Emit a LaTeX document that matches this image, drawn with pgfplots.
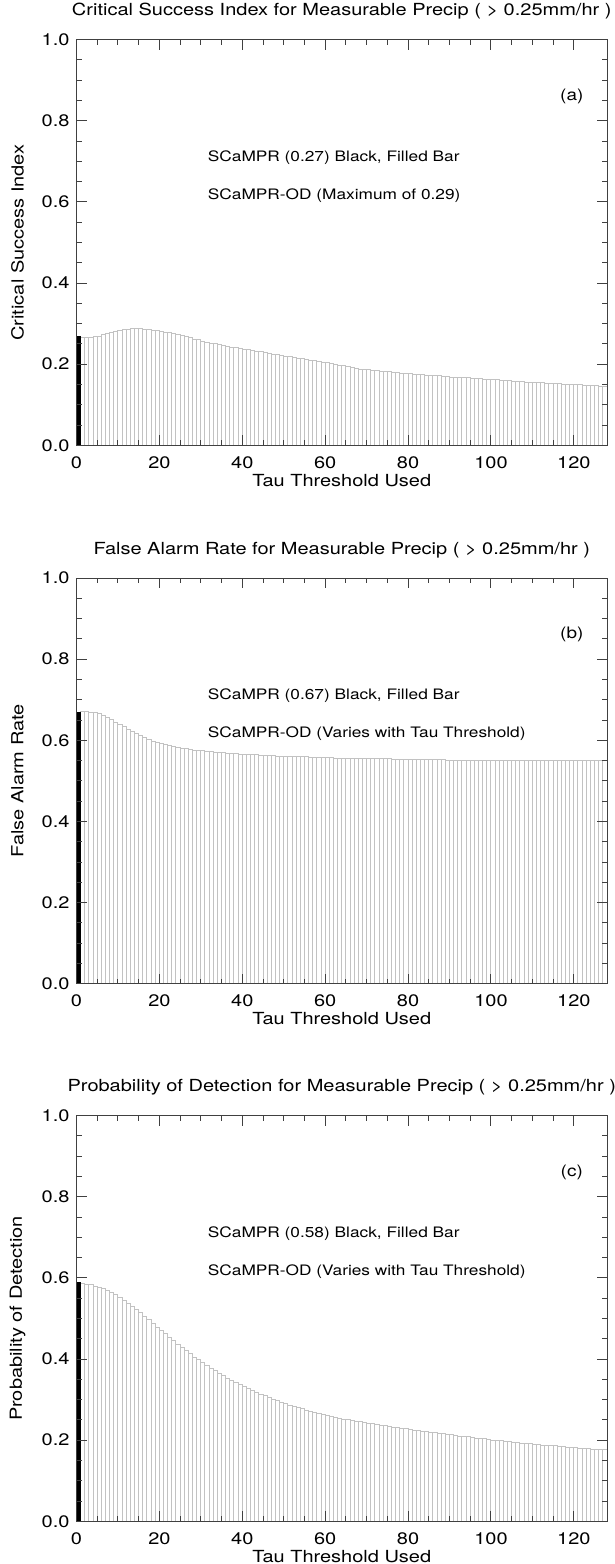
\documentclass[border=0pt]{standalone}
\usepackage{fontspec}
\setmainfont{TeX Gyre Heros}[FakeStretch=1.2]
\usepackage{pgfplots}
\usepackage{pgfplotstable}
\pgfplotsset{compat=1.18}
\definecolor{bargray}{gray}{0.76}

\pgfplotstableread[row sep=\\]{
x y\\
1 0.265\\ 2 0.265\\ 3 0.266\\ 4 0.267\\ 5 0.269\\ 6 0.272\\ 7 0.275\\ 8 0.278\\ 9 0.281\\ 10 0.283\\
11 0.285\\ 12 0.286\\ 13 0.287\\ 14 0.287\\ 15 0.287\\ 16 0.286\\ 17 0.285\\ 18 0.284\\ 19 0.283\\ 20 0.281\\
21 0.279\\ 22 0.277\\ 23 0.275\\ 24 0.273\\ 25 0.270\\ 26 0.268\\ 27 0.265\\ 28 0.262\\ 29 0.260\\ 30 0.257\\
31 0.254\\ 32 0.252\\ 33 0.250\\ 34 0.248\\ 35 0.246\\ 36 0.244\\ 37 0.242\\ 38 0.240\\ 39 0.239\\ 40 0.237\\
41 0.235\\ 42 0.234\\ 43 0.232\\ 44 0.230\\ 45 0.229\\ 46 0.227\\ 47 0.225\\ 48 0.224\\ 49 0.222\\ 50 0.220\\
51 0.219\\ 52 0.217\\ 53 0.215\\ 54 0.213\\ 55 0.212\\ 56 0.210\\ 57 0.208\\ 58 0.206\\ 59 0.204\\ 60 0.203\\
61 0.201\\ 62 0.199\\ 63 0.197\\ 64 0.196\\ 65 0.194\\ 66 0.192\\ 67 0.190\\ 68 0.188\\ 69 0.187\\ 70 0.186\\
71 0.185\\ 72 0.184\\ 73 0.183\\ 74 0.182\\ 75 0.181\\ 76 0.180\\ 77 0.179\\ 78 0.178\\ 79 0.177\\ 80 0.176\\
81 0.175\\ 82 0.174\\ 83 0.174\\ 84 0.173\\ 85 0.172\\ 86 0.171\\ 87 0.171\\ 88 0.170\\ 89 0.169\\ 90 0.168\\
91 0.168\\ 92 0.167\\ 93 0.166\\ 94 0.166\\ 95 0.165\\ 96 0.164\\ 97 0.164\\ 98 0.163\\ 99 0.162\\ 100 0.162\\
101 0.161\\ 102 0.160\\ 103 0.160\\ 104 0.159\\ 105 0.158\\ 106 0.158\\ 107 0.157\\ 108 0.156\\ 109 0.156\\ 110 0.155\\
111 0.155\\ 112 0.154\\ 113 0.153\\ 114 0.153\\ 115 0.152\\ 116 0.152\\ 117 0.151\\ 118 0.151\\ 119 0.150\\ 120 0.149\\
121 0.149\\ 122 0.148\\ 123 0.148\\ 124 0.147\\ 125 0.147\\ 126 0.146\\ 127 0.146\\
}\csi

\pgfplotstableread[row sep=\\]{
x y\\
1 0.670\\ 2 0.670\\ 3 0.669\\ 4 0.668\\ 5 0.665\\ 6 0.661\\ 7 0.656\\ 8 0.651\\ 9 0.645\\ 10 0.639\\
11 0.633\\ 12 0.627\\ 13 0.621\\ 14 0.616\\ 15 0.611\\ 16 0.606\\ 17 0.602\\ 18 0.598\\ 19 0.595\\ 20 0.592\\
21 0.589\\ 22 0.587\\ 23 0.585\\ 24 0.583\\ 25 0.581\\ 26 0.579\\ 27 0.578\\ 28 0.576\\ 29 0.575\\ 30 0.574\\
31 0.573\\ 32 0.572\\ 33 0.571\\ 34 0.570\\ 35 0.569\\ 36 0.568\\ 37 0.567\\ 38 0.567\\ 39 0.566\\ 40 0.565\\
41 0.565\\ 42 0.564\\ 43 0.564\\ 44 0.563\\ 45 0.563\\ 46 0.562\\ 47 0.562\\ 48 0.561\\ 49 0.561\\ 50 0.560\\
51 0.560\\ 52 0.560\\ 53 0.559\\ 54 0.559\\ 55 0.559\\ 56 0.558\\ 57 0.558\\ 58 0.558\\ 59 0.557\\ 60 0.557\\
61 0.557\\ 62 0.556\\ 63 0.556\\ 64 0.556\\ 65 0.556\\ 66 0.555\\ 67 0.555\\ 68 0.555\\ 69 0.555\\ 70 0.555\\
71 0.554\\ 72 0.554\\ 73 0.554\\ 74 0.554\\ 75 0.554\\ 76 0.553\\ 77 0.553\\ 78 0.553\\ 79 0.553\\ 80 0.553\\
81 0.553\\ 82 0.552\\ 83 0.552\\ 84 0.552\\ 85 0.552\\ 86 0.552\\ 87 0.552\\ 88 0.552\\ 89 0.551\\ 90 0.551\\
91 0.551\\ 92 0.551\\ 93 0.551\\ 94 0.551\\ 95 0.551\\ 96 0.551\\ 97 0.551\\ 98 0.551\\ 99 0.551\\ 100 0.551\\
101 0.550\\ 102 0.550\\ 103 0.550\\ 104 0.550\\ 105 0.550\\ 106 0.550\\ 107 0.550\\ 108 0.550\\ 109 0.550\\ 110 0.550\\
111 0.550\\ 112 0.550\\ 113 0.550\\ 114 0.550\\ 115 0.550\\ 116 0.550\\ 117 0.550\\ 118 0.550\\ 119 0.550\\ 120 0.550\\
121 0.550\\ 122 0.550\\ 123 0.550\\ 124 0.550\\ 125 0.550\\ 126 0.550\\ 127 0.550\\
}\far

\pgfplotstableread[row sep=\\]{
x y\\
1 0.586\\ 2 0.585\\ 3 0.583\\ 4 0.580\\ 5 0.577\\ 6 0.573\\ 7 0.569\\ 8 0.564\\ 9 0.558\\ 10 0.552\\
11 0.545\\ 12 0.538\\ 13 0.530\\ 14 0.522\\ 15 0.514\\ 16 0.505\\ 17 0.497\\ 18 0.488\\ 19 0.479\\ 20 0.470\\
21 0.462\\ 22 0.453\\ 23 0.445\\ 24 0.437\\ 25 0.429\\ 26 0.421\\ 27 0.413\\ 28 0.405\\ 29 0.398\\ 30 0.391\\
31 0.384\\ 32 0.377\\ 33 0.371\\ 34 0.365\\ 35 0.359\\ 36 0.353\\ 37 0.347\\ 38 0.342\\ 39 0.337\\ 40 0.332\\
41 0.327\\ 42 0.322\\ 43 0.318\\ 44 0.313\\ 45 0.309\\ 46 0.305\\ 47 0.301\\ 48 0.297\\ 49 0.293\\ 50 0.290\\
51 0.286\\ 52 0.283\\ 53 0.280\\ 54 0.277\\ 55 0.274\\ 56 0.271\\ 57 0.268\\ 58 0.266\\ 59 0.263\\ 60 0.260\\
61 0.258\\ 62 0.256\\ 63 0.254\\ 64 0.252\\ 65 0.250\\ 66 0.248\\ 67 0.246\\ 68 0.245\\ 69 0.243\\ 70 0.241\\
71 0.240\\ 72 0.238\\ 73 0.237\\ 74 0.235\\ 75 0.234\\ 76 0.232\\ 77 0.231\\ 78 0.230\\ 79 0.228\\ 80 0.227\\
81 0.225\\ 82 0.224\\ 83 0.222\\ 84 0.221\\ 85 0.220\\ 86 0.218\\ 87 0.217\\ 88 0.216\\ 89 0.214\\ 90 0.213\\
91 0.212\\ 92 0.210\\ 93 0.209\\ 94 0.208\\ 95 0.207\\ 96 0.205\\ 97 0.204\\ 98 0.203\\ 99 0.202\\ 100 0.200\\
101 0.199\\ 102 0.198\\ 103 0.197\\ 104 0.196\\ 105 0.195\\ 106 0.194\\ 107 0.193\\ 108 0.192\\ 109 0.191\\ 110 0.190\\
111 0.189\\ 112 0.188\\ 113 0.187\\ 114 0.186\\ 115 0.186\\ 116 0.185\\ 117 0.184\\ 118 0.183\\ 119 0.182\\ 120 0.181\\
121 0.180\\ 122 0.180\\ 123 0.179\\ 124 0.178\\ 125 0.177\\ 126 0.177\\ 127 0.176\\
}\pod

\pgfplotsset{
  panel/.style={
    scale only axis, width=265.25pt, height=202.8pt,
    anchor=south west,
    xmin=0, xmax=128, ymin=0, ymax=1,
    xtick={0,20,40,60,80,100,120}, minor x tick num=3,
    ytick={0,0.2,0.4,0.6,0.8,1.0}, minor y tick num=3,
    yticklabel style={/pgf/number format/.cd, fixed, fixed zerofill, precision=1},
    xticklabel style={yshift=-2pt},
    /pgf/number format/assume math mode=true,
    major tick length=5pt, minor tick length=2.5pt,
    tick style={draw=black!75, line width=0.5pt},
    axis line style={draw=black!75, line width=0.5pt},
    axis on top,
    xlabel={Tau Threshold Used},
    every axis x label/.style={at={(axis description cs:0.5,0)}, anchor=base, yshift=-20.5pt},
    every axis y label/.style={at={(axis description cs:-0.1112,0.5)}, anchor=center, rotate=90},
    title style={at={(axis description cs:0.5,1)}, anchor=base, yshift=6pt},
  },
  graybars/.style={ybar, bar width=1, bar shift=0.5, draw=bargray, fill=white, line width=0.5pt},
  blackbar/.style={ybar, bar width=0.9, bar shift=0.45, draw=black, fill=black, line width=0.2pt},
}
\tikzset{
  note/.style={anchor=base west, font=\fontsize{7.2}{9}\selectfont},
  plabel/.style={anchor=base, font=\fontsize{7.9}{9.5}\selectfont},
}

\begin{document}
\begin{tikzpicture}[font=\fontsize{8.33}{10}\selectfont]
\useasboundingbox (0,0) rectangle (307.5pt,782pt);

\begin{axis}[panel, at={(38.25pt,559.35pt)},
  title={Critical Success Index for Measurable Precip ( > 0.25mm/hr )},
  ylabel={Critical Success Index}]
  \addplot[graybars] table[x=x,y=y] {\csi};
  \addplot[blackbar] coordinates {(0,0.27)};
  \node[note] at (axis cs:30,0.70) {SCaMPR (0.27) Black, Filled Bar};
  \node[note] at (axis cs:30,0.607) {SCaMPR-OD (Maximum of 0.29)};
  \node[plabel] at (axis cs:119.5,0.85) {(a)};
\end{axis}

\begin{axis}[panel, at={(38.25pt,290.15pt)},
  title={False Alarm Rate for Measurable Precip ( > 0.25mm/hr )},
  ylabel={False Alarm Rate}]
  \addplot[graybars] table[x=x,y=y] {\far};
  \addplot[blackbar] coordinates {(0,0.67)};
  \node[note] at (axis cs:30,0.70) {SCaMPR (0.67) Black, Filled Bar};
  \node[note] at (axis cs:30,0.607) {SCaMPR-OD (Varies with Tau Threshold)};
  \node[plabel] at (axis cs:119.5,0.85) {(b)};
\end{axis}

\begin{axis}[panel, at={(38.25pt,21.35pt)},
  title={Probability of Detection for Measurable Precip ( > 0.25mm/hr )},
  ylabel={Probability of Detection}]
  \addplot[graybars] table[x=x,y=y] {\pod};
  \addplot[blackbar] coordinates {(0,0.59)};
  \node[note] at (axis cs:30,0.70) {SCaMPR (0.58) Black, Filled Bar};
  \node[note] at (axis cs:30,0.607) {SCaMPR-OD (Varies with Tau Threshold)};
  \node[plabel] at (axis cs:119.5,0.85) {(c)};
\end{axis}
\end{tikzpicture}
\end{document}
